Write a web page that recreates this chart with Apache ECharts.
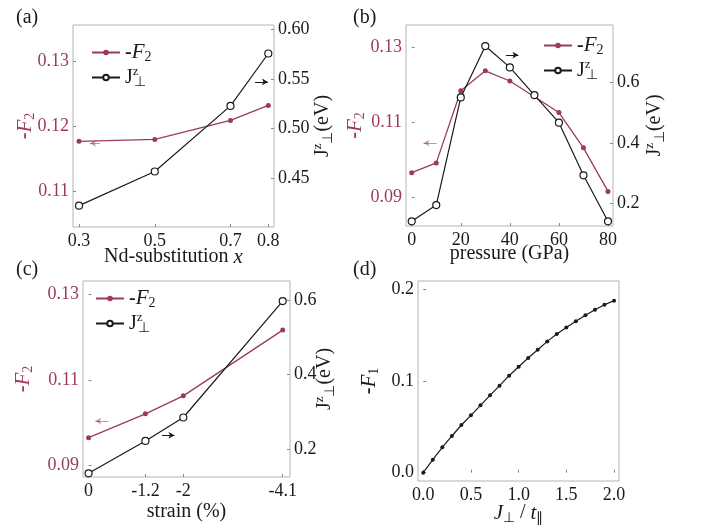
<!DOCTYPE html>
<html>
<head>
<meta charset="utf-8">
<script src="https://cdn.jsdelivr.net/npm/echarts@6/dist/echarts.min.js"></script>
<style>
  html, body { margin: 0; padding: 0; background: #fff; }
  #chart { width: 704px; height: 527px; }
</style>
</head>
<body>
<div id="chart"></div>
<script>
// (a) Nd substitution
const ndX = [0.3, 0.5, 0.7, 0.8];
const ndF2 = [0.1177, 0.1180, 0.1209, 0.1232];
const ndJ = [0.4223, 0.4567, 0.5228, 0.5756];

// (b) pressure (GPa)
const presX = [0, 10, 20, 30, 40, 50, 60, 70, 80];
const presF2 = [0.0965, 0.0991, 0.1183, 0.1236, 0.1209, 0.1167, 0.1125, 0.1031, 0.0915];
const presJ = [0.139, 0.193, 0.551, 0.722, 0.651, 0.559, 0.467, 0.292, 0.139];

// (c) strain (%)
const strainX = [0, -1.2, -2, -4.1];
const strainF2 = [0.0965, 0.1021, 0.1063, 0.1217];
const strainJ = [0.135, 0.222, 0.285, 0.598];

// (d) -F1 versus J_perp / t_par
const ratioX = [0, 0.1, 0.2, 0.3, 0.4, 0.5, 0.6, 0.7, 0.8, 0.9, 1.0,
                1.1, 1.2, 1.3, 1.4, 1.5, 1.6, 1.7, 1.8, 1.9, 2.0];
const ratioF1 = [0, 0.0142, 0.0277, 0.0401, 0.0521, 0.0627, 0.0736, 0.0845, 0.0951, 0.106, 0.1158,
                 0.1253, 0.1344, 0.1435, 0.1515, 0.1588, 0.1654, 0.172, 0.1781, 0.1836, 0.188];

// tick labels
const ndTicks = [0.3, 0.5, 0.7, 0.8];
const ndF2Ticks = [0.11, 0.12, 0.13];
const ndJTicks = [0.45, 0.50, 0.55, 0.60];
const presTicks = [0, 20, 40, 60, 80];
const f2Ticks = [0.09, 0.11, 0.13];
const jTicks = [0.2, 0.4, 0.6];
const strainTicks = [0, -1.2, -2, -4.1];
const ratioTicks = [0, 0.5, 1.0, 1.5, 2.0];
const f1Ticks = [0, 0.1, 0.2];

const serif = "'Liberation Serif', 'Times New Roman', serif";
const maroon = '#9b3a5c';
const ink = '#1a1a1a';
const frame = '#b4b4b4';

const zip = (xs, ys) => xs.map((x, i) => [x, ys[i]]);

// rich text pieces shared by legends and axis names;
// 'stack' lets the superscript sit directly above the following subscript
function richSet(color, size, lh, stack) {
  const sp = { fontFamily: serif, fontSize: size - 7, color: color, verticalAlign: 'top', lineHeight: 14 };
  if (stack) { sp.width = 1; sp.align = 'left'; }
  return {
    mn: { fontFamily: serif, fontSize: size, fontWeight: 'bold', color: color, lineHeight: lh },
    it: { fontFamily: serif, fontSize: size + 1, fontStyle: 'italic', color: color, lineHeight: lh },
    rm: { fontFamily: serif, fontSize: size, color: color, lineHeight: lh },
    sb: { fontFamily: serif, fontSize: size - 6, color: color, verticalAlign: 'bottom', lineHeight: 16 },
    sp: sp,
    sbp: { fontFamily: serif, fontSize: size - 6, color: color, verticalAlign: 'bottom', lineHeight: 14 }
  };
}
const F2_NAME = '{mn|-}{it|F}{sb|2}';
const J_NAME = '{rm|J}{sp|z}{sbp|⊥}';

function xAxisOf(grid, min, max, ticks, fmt, name, gap, extra) {
  return Object.assign({
    type: 'value', gridIndex: grid, min: min, max: max,
    axisLine: { show: false },
    axisTick: { show: true, inside: true, length: 3, customValues: ticks, lineStyle: { color: '#888' } },
    axisLabel: { customValues: ticks, formatter: fmt, fontFamily: serif, fontSize: 18, color: ink, margin: 5 },
    splitLine: { show: false },
    name: name, nameLocation: 'middle', nameGap: gap, nameMoveOverlap: false,
    nameTextStyle: { fontFamily: serif, fontSize: 20, color: ink, verticalAlign: 'top', rich: richSet(ink, 20, 24, false) }
  }, extra || {});
}

function yAxisOf(grid, side, min, max, ticks, fmt, color, name, gap) {
  return {
    type: 'value', gridIndex: grid, position: side, min: min, max: max,
    axisLine: { show: false },
    axisTick: { show: true, inside: true, length: 3, customValues: ticks, lineStyle: { color: '#888' } },
    axisLabel: { customValues: ticks, formatter: fmt, fontFamily: serif, fontSize: 18, color: color, margin: 4 },
    splitLine: { show: false },
    name: name, nameLocation: 'middle', nameRotate: 90, nameGap: gap, nameMoveOverlap: false,
    nameTextStyle: { fontFamily: serif, fontSize: 20, color: color, rich: richSet(color, 20, 24, false) }
  };
}

const f2Style = {
  type: 'line', name: 'F2', symbol: 'circle', symbolSize: 5,
  lineStyle: { color: maroon, width: 1.3 }, itemStyle: { color: maroon },
  animation: false, z: 3
};
const jStyle = {
  type: 'line', name: 'Jz', symbol: 'circle', symbolSize: 7,
  lineStyle: { color: ink, width: 1.2 }, itemStyle: { color: '#fff', borderColor: ink, borderWidth: 1.2 },
  animation: false, z: 4
};

// small direction arrows pointing to the axis each curve belongs to
function arrow(from, to, color, opacity) {
  return {
    silent: true, animation: false,
    symbol: ['none', 'arrow'], symbolSize: [5, 6],
    label: { show: false },
    lineStyle: { color: color, width: 1, type: 'solid', opacity: opacity },
    itemStyle: { color: color, opacity: opacity },
    data: [[{ coord: from }, { coord: to }]]
  };
}

function legendAt(left, top) {
  return {
    left: left, top: top, orient: 'vertical', itemWidth: 28, itemHeight: 7, itemGap: 1,
    data: ['F2', 'Jz'], selectedMode: false,
    formatter: n => (n === 'F2' ? F2_NAME : J_NAME),
    textStyle: { fontFamily: serif, fontSize: 20, color: ink, rich: richSet(ink, 20, 24, true) }
  };
}

const chart = echarts.init(document.getElementById('chart'), null, { renderer: 'canvas' });

const titleStyle = { fontFamily: serif, fontSize: 20, fontWeight: 'normal', color: ink };

chart.setOption({
  backgroundColor: '#fff',
  title: [
    { text: '(a)', left: 11, top: 3, textStyle: titleStyle },
    { text: '(b)', left: 348, top: 3, textStyle: titleStyle },
    { text: '(c)', left: 11, top: 255, textStyle: titleStyle },
    { text: '(d)', left: 348, top: 255, textStyle: titleStyle }
  ],
  legend: [legendAt(86, 37), legendAt(538, 30), legendAt(90, 283)],
  grid: [
    { left: 73, top: 25, width: 201, height: 202, show: true, borderColor: frame, borderWidth: 1 },
    { left: 406, top: 25, width: 207, height: 201, show: true, borderColor: frame, borderWidth: 1 },
    { left: 83, top: 281, width: 207, height: 196, show: true, borderColor: frame, borderWidth: 1 },
    { left: 418, top: 281, width: 201, height: 200, show: true, borderColor: frame, borderWidth: 1 }
  ],
  xAxis: [
    xAxisOf(0, 0.284, 0.815, ndTicks, v => v.toFixed(1), 'Nd-substitution {it|x}', 18),
    xAxisOf(1, -2.33, 82.04, presTicks, v => String(v), 'pressure (GPa)', 18),
    xAxisOf(2, -4.254, 0.118, strainTicks, v => String(v), 'strain (%)', 25, { inverse: true }),
    xAxisOf(3, -0.055, 2.052, ratioTicks, v => v.toFixed(1), '{it|J}{sbp|⊥}{rm| / }{it|t}{sbp|∥}', 20)
  ],
  yAxis: [
    yAxisOf(0, 'left', 0.1046, 0.1355, ndF2Ticks, v => v.toFixed(2), maroon, F2_NAME, 36),
    yAxisOf(0, 'right', 0.4008, 0.6043, ndJTicks, v => v.toFixed(2), ink, J_NAME + '{rm|(eV)}', 37),
    yAxisOf(1, 'left', 0.0823, 0.1358, f2Ticks, v => v.toFixed(2), maroon, F2_NAME, 39),
    yAxisOf(1, 'right', 0.1233, 0.792, jTicks, v => v.toFixed(1), ink, J_NAME + '{rm|(eV)}', 30),
    yAxisOf(2, 'left', 0.0873, 0.1332, f2Ticks, v => v.toFixed(2), maroon, F2_NAME, 48),
    yAxisOf(2, 'right', 0.125, 0.652, jTicks, v => v.toFixed(1), ink, J_NAME + '{rm|(eV)}', 23),
    yAxisOf(3, 'left', -0.0091, 0.2095, f1Ticks, v => v.toFixed(1), ink, '{mn|-}{it|F}{sb|1}', 37)
  ],
  series: [
    Object.assign({}, f2Style, { xAxisIndex: 0, yAxisIndex: 0, data: zip(ndX, ndF2),
      markLine: arrow([0.355, 0.1174], [0.329, 0.1174], maroon, 0.55) }),
    Object.assign({}, jStyle, { xAxisIndex: 0, yAxisIndex: 1, data: zip(ndX, ndJ),
      markLine: arrow([0.765, 0.547], [0.799, 0.547], ink, 1) }),

    Object.assign({}, f2Style, { xAxisIndex: 1, yAxisIndex: 2, data: zip(presX, presF2),
      markLine: arrow([10.2, 0.1044], [4.8, 0.1044], maroon, 0.55) }),
    Object.assign({}, jStyle, { xAxisIndex: 1, yAxisIndex: 3, data: zip(presX, presJ),
      markLine: arrow([38.4, 0.692], [43.5, 0.692], ink, 1) }),

    Object.assign({}, f2Style, { xAxisIndex: 2, yAxisIndex: 4, data: zip(strainX, strainF2),
      markLine: arrow([-0.422, 0.1004], [-0.141, 0.1004], maroon, 0.55) }),
    Object.assign({}, jStyle, { xAxisIndex: 2, yAxisIndex: 5, data: zip(strainX, strainJ),
      markLine: arrow([-1.549, 0.237], [-1.814, 0.237], ink, 1) }),

    { type: 'line', name: 'F1', xAxisIndex: 3, yAxisIndex: 6, data: zip(ratioX, ratioF1),
      symbol: 'circle', symbolSize: 4, lineStyle: { color: ink, width: 1.2 }, itemStyle: { color: ink },
      animation: false }
  ]
});
</script>
</body>
</html>
